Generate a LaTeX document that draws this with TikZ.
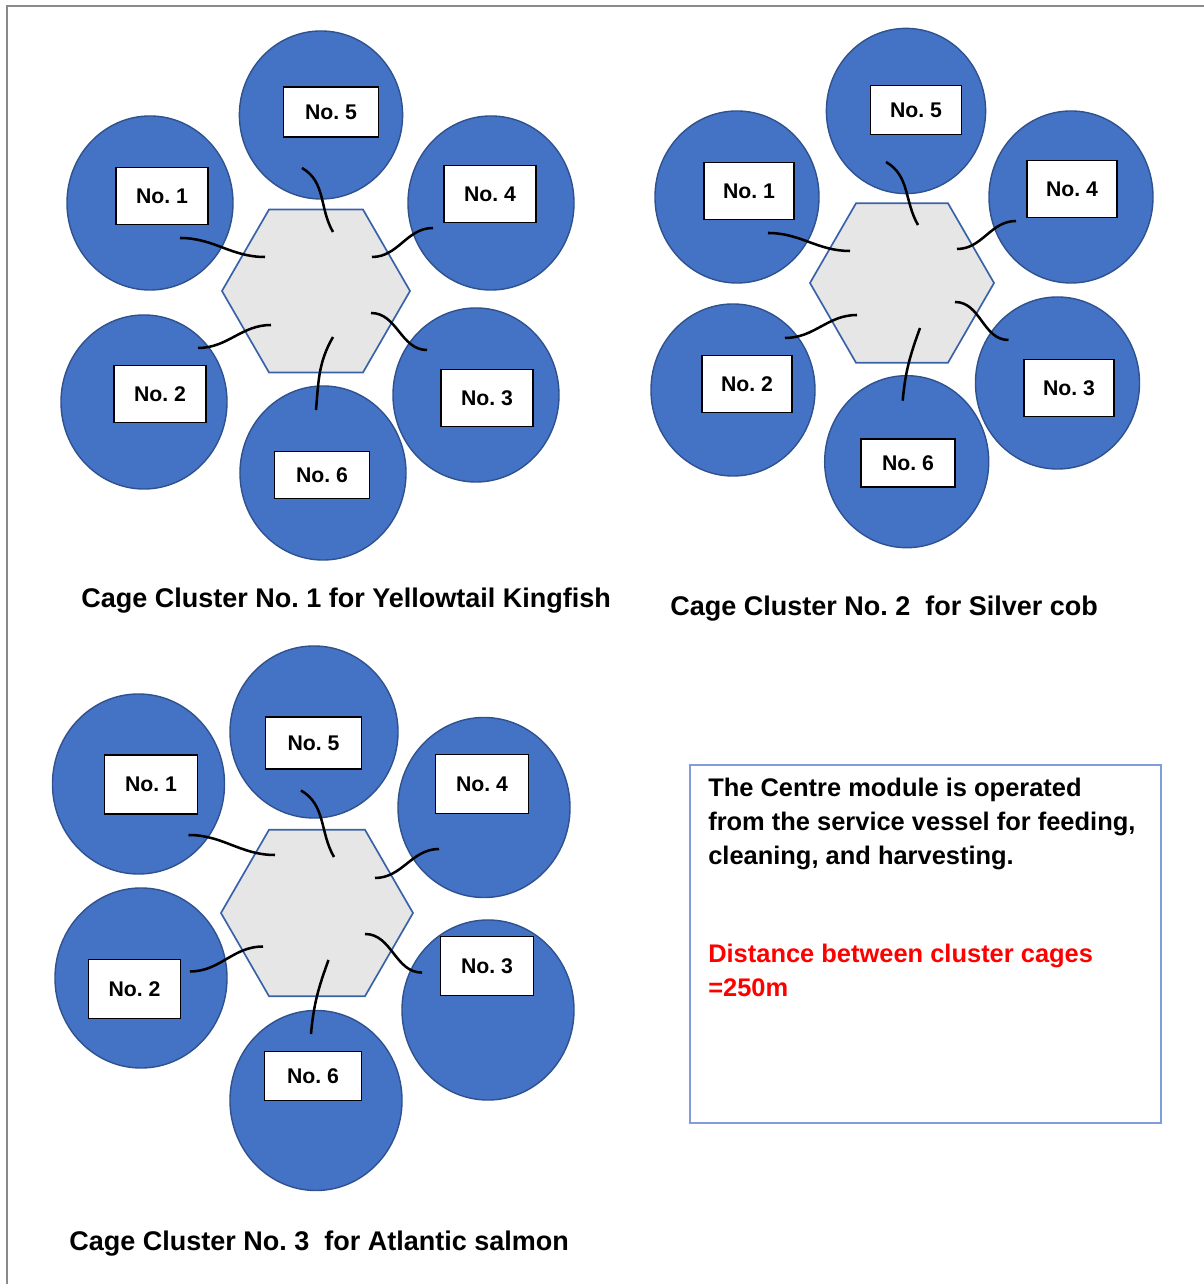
\documentclass[tikz,border=0pt]{standalone}
\usepackage{fontspec}
\setmainfont{Liberation Sans}
\usetikzlibrary{shapes.geometric}
\definecolor{cageblue}{HTML}{4472C4}
\definecolor{cageedge}{HTML}{2F528F}
\definecolor{hubgrey}{HTML}{E6E6E6}
\definecolor{hubedge}{HTML}{3A62A8}
\definecolor{noteedge}{HTML}{7F9CDB}
\definecolor{framegrey}{HTML}{8A8A8A}
\frenchspacing

\begin{document}
\begin{tikzpicture}[x=0.025cm, y=0.025cm,
    cage/.style={ellipse, draw=cageedge, line width=1pt, fill=cageblue, inner sep=0pt, minimum width=4.15cm, minimum height=4.35cm},
    hub/.style={regular polygon, regular polygon sides=6, draw=hubedge, line width=1.2pt, fill=hubgrey, inner sep=0pt, minimum size=4.7cm},
    cagetag/.style={draw=black, line width=0.9pt, fill=white, rectangle, inner sep=0pt, minimum width=2.3cm, minimum height=1.43cm, font=\fontsize{15.1}{18}\selectfont\bfseries},
    cable/.style={line width=1.8pt, black},
    clustertitle/.style={anchor=base west, inner sep=0pt, font=\fontsize{19.2}{23}\selectfont\bfseries},
    notetext/.style={anchor=base west, inner sep=0pt, align=left, font=\fontsize{18.1}{24.2}\selectfont\bfseries}
  ]
  \useasboundingbox (0,0) rectangle (1204,1284);

  % frame
  \draw[framegrey, line width=1.4pt] (7,0) -- (7,1278) -- (1204,1278);

  % Cluster 1
  \node[hub] (h1) at (316,993) {};
  \node[cage, minimum width=4.08cm, minimum height=4.2cm] (c15) at (321,1169) {};
  \node[cage] (c11) at (150,1081) {};
  \node[cage] (c14) at (491,1081) {};
  \node[cage] (c12) at (144,882) {};
  \node[cage] (c13) at (476,889) {};
  \node[cage] (c16) at (323,811) {};
  \node[cagetag, minimum width=2.38cm, minimum height=1.25cm] (t15) at (331,1172) {No. 5};
  \node[cagetag] (t11) at (162,1088) {No. 1};
  \node[cagetag] (t14) at (490,1090) {No. 4};
  \node[cagetag] (t12) at (160,890) {No. 2};
  \node[cagetag] (t13) at (487,886) {No. 3};
  \node[cagetag, minimum width=2.38cm, minimum height=1.18cm] (t16) at (322,809) {No. 6};

  \draw[cable] ([shift={(30,-35)}]c11.center) to[out=0, in=180] ([shift={(-51,34)}]h1.center);
  \draw[cable] ([shift={(-19,-53)}]c15.center) to[out=-30, in=120] ([shift={(17,59)}]h1.center);
  \draw[cable] ([shift={(-58,-25)}]c14.center) to[out=180, in=0] ([shift={(56,34)}]h1.center);
  \draw[cable] ([shift={(54,54)}]c12.center) to[out=0, in=180] ([shift={(-45,-34)}]h1.center);
  \draw[cable] ([shift={(-49,45)}]c13.center) to[out=180, in=0] ([shift={(55,-22)}]h1.center);
  \draw[cable] ([shift={(-7,63)}]c16.center) to[out=85, in=-120] ([shift={(17,-46)}]h1.center);

  \node[clustertitle] (title1) at (81,676) {Cage Cluster No. 1 for Yellowtail Kingfish};

  % Cluster 2
  \begin{scope}[cage/.append style={minimum width=4.1cm, minimum height=4.3cm},
                cagetag/.append style={minimum width=2.25cm, minimum height=1.42cm}]
  \node[hub, minimum size=4.6cm] (h2) at (902,1001) {};
  \node[cage, minimum width=3.98cm, minimum height=4.13cm] (c25) at (906,1173) {};
  \node[cage] (c21) at (737,1087) {};
  \node[cage] (c24) at (1071,1087) {};
  \node[cage] (c22) at (733,894) {};
  \node[cage] (c23) at (1057.5,901) {};
  \node[cage] (c26) at (906.7,822.3) {};
  \node[cagetag, minimum width=2.28cm, minimum height=1.23cm] (t25) at (916,1174) {No. 5};
  \node[cagetag] (t21) at (749,1093) {No. 1};
  \node[cagetag] (t24) at (1072,1095) {No. 4};
  \node[cagetag] (t22) at (747,900) {No. 2};
  \node[cagetag] (t23) at (1069,896) {No. 3};
  \node[cagetag, minimum width=2.35cm, minimum height=1.2cm] (t26) at (908,821) {No. 6};
  \end{scope}

  \draw[cable] ([shift={(31,-36)}]c21.center) to[out=0, in=180] ([shift={(-52,32)}]h2.center);
  \draw[cable] ([shift={(-20,-51)}]c25.center) to[out=-30, in=120] ([shift={(16,58)}]h2.center);
  \draw[cable] ([shift={(-55,-24)}]c24.center) to[out=180, in=0] ([shift={(55,34)}]h2.center);
  \draw[cable] ([shift={(52,52)}]c22.center) to[out=0, in=180] ([shift={(-45,-32)}]h2.center);
  \draw[cable] ([shift={(-49,43)}]c23.center) to[out=180, in=0] ([shift={(53,-19)}]h2.center);
  \draw[cable] ([shift={(-4,61)}]c26.center) to[out=85, in=-110] ([shift={(18,-45)}]h2.center);

  \node[clustertitle] (title2) at (670,668) {Cage Cluster No. 2\ \ for Silver cob};

  % Cluster 3
  \begin{scope}[cage/.append style={minimum width=4.3cm, minimum height=4.5cm},
                cagetag/.append style={minimum width=2.31cm, minimum height=1.47cm}]
  \node[hub, minimum size=4.8cm] (h3) at (317,371) {};
  \node[cage, minimum width=4.2cm, minimum height=4.3cm] (c35) at (314,552) {};
  \node[cage] (c31) at (138.5,500) {};
  \node[cage] (c34) at (484,476.5) {};
  \node[cage] (c32) at (141,306) {};
  \node[cage] (c33) at (488,274) {};
  \node[cage] (c36) at (316,183.5) {};
  \node[cagetag, minimum width=2.4cm, minimum height=1.3cm] (t35) at (313.6,541) {No. 5};
  \node[cagetag] (t31) at (151,499.5) {No. 1};
  \node[cagetag] (t34) at (482,500) {No. 4};
  \node[cagetag] (t32) at (134.5,295) {No. 2};
  \node[cagetag] (t33) at (487,318) {No. 3};
  \node[cagetag, minimum width=2.43cm, minimum height=1.21cm] (t36) at (313,208) {No. 6};
  \end{scope}

  \draw[cable] ([shift={(50,-51)}]c31.center) to[out=0, in=180] ([shift={(-42,58)}]h3.center);
  \draw[cable] ([shift={(-13,-58.5)}]c35.center) to[out=-30, in=120] ([shift={(17,56)}]h3.center);
  \draw[cable] ([shift={(-45,-41.5)}]c34.center) to[out=180, in=0] ([shift={(58,35)}]h3.center);
  \draw[cable] ([shift={(49,6.5)}]c32.center) to[out=0, in=180] ([shift={(-54,-33.5)}]h3.center);
  \draw[cable] ([shift={(-66,37.4)}]c33.center) to[out=180, in=0] ([shift={(48,-21)}]h3.center);
  \draw[cable] ([shift={(-5,66.5)}]c36.center) to[out=85, in=-110] ([shift={(11.5,-47)}]h3.center);

  \node[clustertitle] (title3) at (69,33) {Cage Cluster No. 3\ \ for Atlantic salmon};

  % note box
  \node[draw=noteedge, line width=1.4pt, inner sep=0pt, minimum width=11.775cm, minimum height=8.95cm] (note) at (925.5,340) {};
  \node[notetext] (info) at (708,419) {The Centre module is operated\\from the service vessel for feeding,\\cleaning, and harvesting.};
  \node[notetext, text=red] (dist) at (708,287) {Distance between cluster cages\\=250m};

\end{tikzpicture}
\end{document}
